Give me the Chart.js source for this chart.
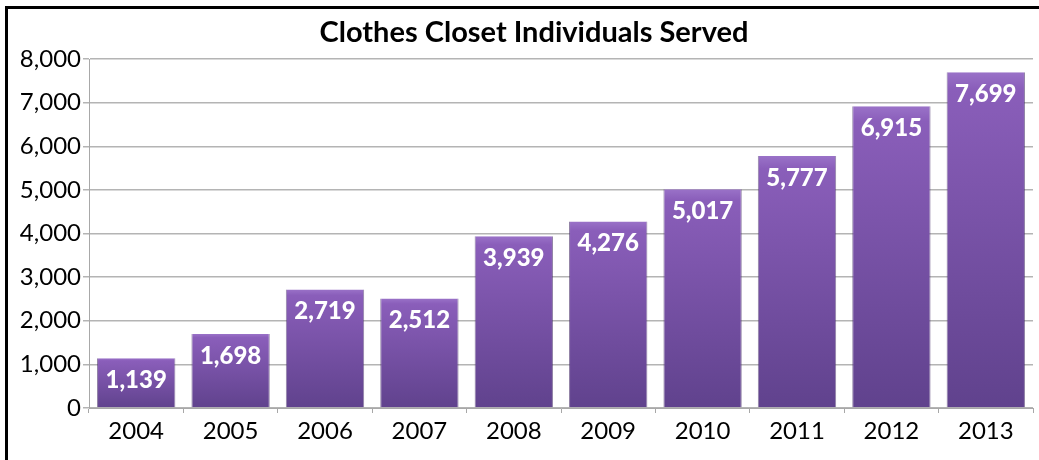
<!DOCTYPE html>
<html>
<head>
<meta charset="utf-8">
<script src="https://cdn.jsdelivr.net/npm/chart.js@4"></script>
<style>
    body { margin: 0; background: #fff; }
    .frame {
        position: absolute;
        left: 5px;
        top: 6px;
        width: 1034px;
        height: 454px;
        border-left: 3px solid #000;
        border-top: 3px solid #000;
    }
    .frame canvas { display: block; }
</style>
</head>
<body>
<div class="frame"><canvas id="closetChart" width="1031" height="451"></canvas></div>
<script>
// DATA
const years = ["2004", "2005", "2006", "2007", "2008", "2009", "2010", "2011", "2012", "2013"];
const served = [1139, 1698, 2719, 2512, 3939, 4276, 5017, 5777, 6915, 7699];
const yTicks = [0, 1000, 2000, 3000, 4000, 5000, 6000, 7000, 8000];

const FONT = "Lato, 'Open Sans', sans-serif";

// vertical gradient per bar, light at top
function barFill(context) {
    const chart = context.chart;
    const yScale = chart.scales.y;
    if (!chart.chartArea || !yScale || context.parsed === undefined) return "#7a52a8";
    const top = yScale.getPixelForValue(context.parsed.y);
    const bottom = chart.chartArea.bottom;
    if (!isFinite(top) || bottom - top < 1) return "#7a52a8";
    const g = chart.ctx.createLinearGradient(0, top, 0, bottom);
    g.addColorStop(0, "#9a72c8");
    g.addColorStop(0.05, "#8a5eba");
    g.addColorStop(1, "#60428d");
    return g;
}

// title drawn by hand so the chart area stays put
const titlePlugin = {
    id: "titleText",
    afterDraw(chart) {
        const ctx = chart.ctx;
        ctx.save();
        ctx.font = "bold 29px " + FONT;
        ctx.fillStyle = "#000";
        ctx.textAlign = "center";
        ctx.textBaseline = "middle";
        ctx.fillText("Clothes Closet Individuals Served", 526, 24);
        ctx.restore();
    }
};

// white value labels inside top of each bar
const valueLabels = {
    id: "valueLabels",
    afterDatasetsDraw(chart) {
        const ctx = chart.ctx;
        const meta = chart.getDatasetMeta(0);
        ctx.save();
        ctx.font = "900 24px " + FONT;
        ctx.fillStyle = "#fff";
        ctx.textAlign = "center";
        ctx.textBaseline = "middle";
        meta.data.forEach((bar, i) => {
            ctx.fillText(served[i].toLocaleString("en-US"), bar.x, bar.y + 22);
        });
        ctx.restore();
    }
};

new Chart(document.getElementById("closetChart"), {
    type: "bar",
    data: {
        labels: years,
        datasets: [{
            data: served,
            backgroundColor: barFill,
            borderColor: "rgba(70, 45, 105, 0.6)",
            borderWidth: { left: 1, right: 1, top: 0, bottom: 0 },
            barPercentage: 0.83,
            categoryPercentage: 1
        }]
    },
    options: {
        responsive: false,
        animation: false,
        events: [],
        layout: { padding: { top: 50, right: 6, bottom: 12, left: 0 } },
        plugins: {
            legend: { display: false },
            tooltip: { enabled: false }
        },
        scales: {
            x: {
                afterFit(scale) { scale.height = 40; },
                grid: {
                    offset: true,
                    drawOnChartArea: false,
                    drawTicks: true,
                    tickLength: 5,
                    color: "#a8a8a8"
                },
                border: { color: "#a8a8a8" },
                ticks: {
                    color: "#000",
                    padding: 4,
                    font: { family: FONT, size: 24 }
                }
            },
            y: {
                min: 0,
                max: 8000,
                afterFit(scale) { scale.width = 81; },
                afterBuildTicks(scale) {
                    scale.ticks = yTicks.map(v => ({ value: v }));
                },
                grid: {
                    color: "#b4b4b4",
                    lineWidth: 1.5,
                    tickLength: 6
                },
                border: { color: "#a8a8a8" },
                ticks: {
                    color: "#000",
                    padding: 2,
                    font: { family: FONT, size: 24 },
                    callback: v => v.toLocaleString("en-US")
                }
            }
        }
    },
    plugins: [titlePlugin, valueLabels]
});
</script>
</body>
</html>
